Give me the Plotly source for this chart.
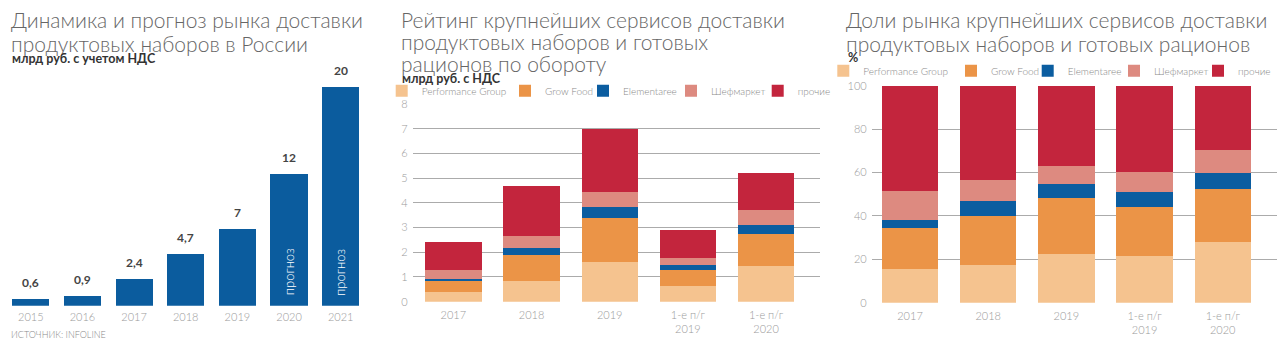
import plotly.graph_objects as go

# ---------------- data ----------------
years_left = ["2015", "2016", "2017", "2018", "2019", "2020", "2021"]
market_values = [0.6, 0.9, 2.4, 4.7, 7, 12, 20]
market_labels = ["0,6", "0,9", "2,4", "4,7", "7", "12", "20"]
forecast_flags = ["", "", "", "", "", "прогноз", "прогноз"]

periods = ["2017", "2018", "2019", "1-е п/г<br>2019", "1-е п/г<br>2020"]
series_names = ["Performance Group", "Grow Food", "Elementaree", "Шефмаркет", "прочие"]

# turnover, bn rub incl. VAT
turn_pg = [0.38, 0.82, 1.59, 0.64, 1.46]
turn_gf = [0.46, 1.06, 1.79, 0.64, 1.26]
turn_el = [0.09, 0.31, 0.44, 0.22, 0.40]
turn_sh = [0.34, 0.47, 0.62, 0.26, 0.58]
turn_ot = [1.13, 2.04, 2.56, 1.14, 1.50]

# market shares, %
share_pg = [15.5, 17.4, 22.5, 21.7, 27.8]
share_gf = [18.8, 22.6, 25.7, 22.6, 24.5]
share_el = [3.7, 6.8, 6.6, 6.6, 7.7]
share_sh = [13.7, 9.7, 8.4, 9.5, 10.4]
share_ot = [48.3, 43.5, 36.8, 39.6, 29.6]

# ---------------- style ----------------
W, H = 1280, 355
FONT = "Lato"
colors = ["#F5C38F", "#EB9447", "#0B5DA0", "#DD8A80", "#C3253D"]
blue = "#0B5C9E"
grid = "#ABABAB"
tick_col = "#9A9A9A"
title_col = "#666666"
legend_col = "#8A8A8A"

# legend marker centres (px) for each series
mid_legend_x = [406.7, 530, 608, 696, 782.7]
right_legend_x = [848.3, 976, 1052.7, 1139, 1223]
LEG_OFF = 25  # distance from legend box left edge to symbol centre


def px(x):
    return x / W


def py(y):
    return 1 - y / H


fig = go.Figure()

# ---- left chart ----
fig.add_trace(go.Bar(
    x=years_left, y=market_values, marker_color=blue, width=0.72,
    xaxis="x", yaxis="y", showlegend=False, hoverinfo="x+y",
))
for i, (yv, lab, flag) in enumerate(zip(market_values, market_labels, forecast_flags)):
    fig.add_annotation(x=i, y=yv, text=lab, xref="x", yref="y",
                       showarrow=False, yanchor="bottom", yshift=7,
                       font=dict(size=12, color="#444444", family=FONT, weight="bold"))
    if flag:
        fig.add_annotation(x=i, y=0, text=flag, xref="x", yref="y", textangle=-90,
                           showarrow=False, yanchor="bottom", yshift=8,
                           font=dict(size=13, color="white", family=FONT, weight=300))

# ---- middle chart ----
legend_layout = {}
for k, (name, vals, col) in enumerate(zip(series_names, [turn_pg, turn_gf, turn_el, turn_sh, turn_ot], colors)):
    lid = "legend" if k == 0 else f"legend{k + 1}"
    fig.add_trace(go.Bar(x=periods, y=vals, name=name, marker_color=col, width=0.72,
                         xaxis="x2", yaxis="y2", legend=lid))
    legend_layout[lid] = dict(x=px(mid_legend_x[k] - LEG_OFF), y=py(90.7))

# ---- right chart ----
for k, (name, vals, col) in enumerate(zip(series_names, [share_pg, share_gf, share_el, share_sh, share_ot], colors)):
    lid = f"legend{k + 6}"
    fig.add_trace(go.Bar(x=periods, y=vals, name=name, marker_color=col, width=0.72,
                         xaxis="x3", yaxis="y3", legend=lid))
    legend_layout[lid] = dict(x=px(right_legend_x[k] - LEG_OFF), y=py(70.7))

for lid, pos in legend_layout.items():
    fig.layout[lid] = dict(orientation="h", x=pos["x"], y=pos["y"], xanchor="left", yanchor="middle",
                           font=dict(size=10, color=legend_col, family=FONT, weight=300),
                           itemwidth=30, bgcolor="rgba(0,0,0,0)", borderwidth=0)

tickfont = dict(size=11, color=tick_col, family=FONT, weight=300)

fig.update_layout(
    template="none",
    width=W, height=H, margin=dict(l=0, r=0, t=0, b=0, autoexpand=False),
    paper_bgcolor="white", plot_bgcolor="white",
    barmode="stack", font=dict(family=FONT),
    xaxis=dict(type="category", domain=[px(5), px(366.5)], range=[-0.5, 6.5], tickfont=tickfont,
               showgrid=False, showline=False, zeroline=False, ticks="", ticklabelstandoff=3),
    yaxis=dict(domain=[py(305.7), py(86.7)], range=[0, 20], visible=False),
    xaxis2=dict(type="category", domain=[px(412.7), px(820)], range=[-0.52, 4.69], tickfont=tickfont,
                showgrid=False, showline=False, zeroline=False, ticks="", anchor="y2",
                ticklabelstandoff=5),
    yaxis2=dict(domain=[py(301.7), py(104)], range=[0, 8], dtick=1, anchor="x2",
                showgrid=True, gridcolor=grid, gridwidth=1.2, zeroline=False, showline=False,
                ticks="", tickfont=tickfont, ticklabelstandoff=4),
    xaxis3=dict(type="category", domain=[px(871.7), px(1276.7)], range=[-0.49, 4.69], tickfont=tickfont,
                showgrid=False, showline=False, zeroline=False, ticks="", anchor="y3",
                ticklabelstandoff=5),
    yaxis3=dict(domain=[py(302.7), py(85.7)], range=[0, 100], dtick=20, anchor="x3",
                showgrid=True, gridcolor=grid, gridwidth=1.2, zeroline=False, showline=False,
                ticks="", tickfont=tickfont, ticklabelstandoff=4),
)


# ---- titles ----
def title_line(x, y, text, size=21):
    fig.add_annotation(x=px(x), y=py(y), xref="paper", yref="paper", text=text,
                       showarrow=False, xanchor="left", yanchor="middle",
                       font=dict(size=size, color=title_col, family=FONT, weight=300))


def sub_line(x, y, text):
    fig.add_annotation(x=px(x), y=py(y), xref="paper", yref="paper", text=text,
                       showarrow=False, xanchor="left", yanchor="middle",
                       font=dict(size=12.5, color="#333333", family=FONT, weight="bold"))


title_line(9, 19, "Динамика и прогноз рынка доставки")
title_line(9, 43, "продуктовых наборов в России")
sub_line(10, 58, "млрд руб. с учетом НДС")

title_line(399, 19, "Рейтинг крупнейших сервисов доставки")
title_line(399, 42, "продуктовых наборов и готовых")
title_line(399, 64, "рационов по обороту")
sub_line(400, 78, "млрд руб. с НДС")

title_line(844, 19, "Доли рынка крупнейших сервисов доставки")
title_line(844, 43, "продуктовых наборов и готовых рационов")
sub_line(846, 57, "%")

fig.add_annotation(x=px(9), y=py(334), xref="paper", yref="paper", text="ИСТОЧНИК: INFOLINE",
                   showarrow=False, xanchor="left", yanchor="middle",
                   font=dict(size=9, color="#8A8A8A", family=FONT, weight=300))

fig.write_html("out.html", config={"displayModeBar": False},
               post_script="document.body.style.margin='0';")
